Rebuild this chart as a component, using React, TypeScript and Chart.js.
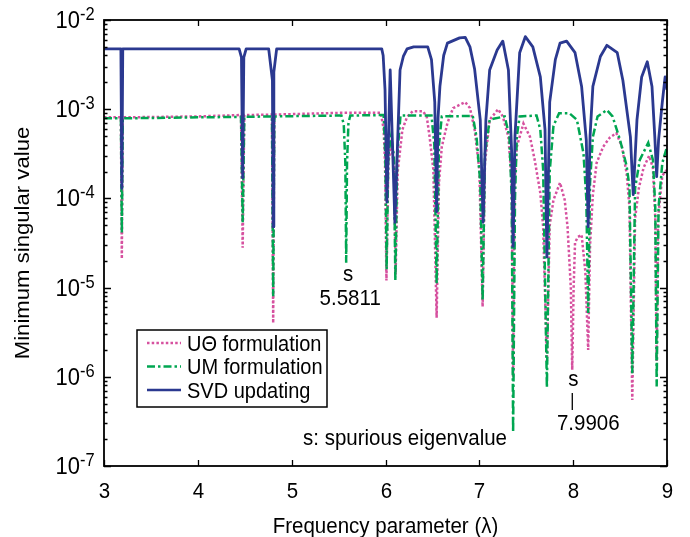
import { useEffect, useRef } from "react";
import { Chart, registerables } from "chart.js";

Chart.register(...registerables);

// ---- data ----
const lambdaUTheta = [
  3.0, 3.18, 3.19, 3.2, 4.0, 4.46, 4.478, 4.495, 4.79, 4.803, 4.815, 5.5, 5.95, 5.98, 5.995, 6.01, 6.03, 6.06, 6.09,
  6.108, 6.13, 6.18, 6.23, 6.29, 6.4, 6.44, 6.47, 6.51, 6.545, 6.57, 6.6, 6.66, 6.72, 6.85, 6.9, 6.95, 7.0, 7.035,
  7.06, 7.11, 7.2, 7.25, 7.31, 7.345, 7.36, 7.375, 7.4, 7.47, 7.54, 7.59, 7.65, 7.68, 7.72, 7.75, 7.79, 7.86, 7.91,
  7.94, 7.975, 7.99, 8.005, 8.02, 8.05, 8.09, 8.13, 8.16, 8.18, 8.21, 8.25, 8.32, 8.39, 8.46, 8.52, 8.57, 8.6, 8.63,
  8.66, 8.7, 8.75, 8.81, 8.85, 8.875, 8.89, 8.905, 8.95, 9.0,
];
const sigmaUTheta = [
  8.1e-4, 8.1e-4, 2.1e-5, 8.1e-4, 8.3e-4, 8.6e-4, 2.8e-5, 8.6e-4, 8.7e-4, 4e-6, 8.7e-4, 9.1e-4, 9.1e-4, 6e-4, 2.5e-4,
  1.2e-5, 2.5e-4, 4e-4, 2.5e-4, 1.4e-5, 2e-4, 5.9e-4, 8.2e-4, 9.5e-4, 9.5e-4, 8.2e-4, 4.9e-4, 2.1e-4, 4.6e-6, 1.5e-4,
  3.8e-4, 7e-4, 1.03e-3, 1.2e-3, 1.03e-3, 5.9e-4, 2.1e-4, 6.1e-6, 2.5e-4, 7.6e-4, 1e-3, 8.3e-4, 4.9e-4, 1.5e-4, 1e-6,
  1.5e-4, 3.8e-4, 6.9e-4, 4.9e-4, 2.7e-4, 1.15e-4, 4.8e-5, 1.5e-6, 5e-5, 9.6e-5, 1.5e-4, 9.6e-5, 4.8e-5, 1e-5, 1.2e-6,
  1e-5, 3.2e-5, 3.7e-5, 3.9e-5, 1.5e-5, 2e-6, 3e-5, 1.1e-4, 2.5e-4, 3.8e-4, 4.8e-4, 5.4e-4, 3.8e-4, 1.9e-4, 8e-5,
  5.5e-7, 6e-5, 1.3e-4, 2.2e-4, 3e-4, 2.2e-4, 6e-5, 1.5e-6, 6e-5, 1.8e-4, 2.1e-4,
];

const lambdaUM = [
  3.0, 3.18, 3.19, 3.2, 4.0, 4.46, 4.478, 4.495, 4.79, 4.803, 4.815, 5.53, 5.555, 5.572, 5.581, 5.59, 5.605, 5.625,
  5.98, 5.998, 6.012, 6.03, 6.06, 6.09, 6.105, 6.125, 6.16, 6.49, 6.52, 6.545, 6.57, 6.6, 6.93, 6.97, 7.01, 7.035,
  7.06, 7.11, 7.15, 7.27, 7.32, 7.345, 7.36, 7.38, 7.4, 7.43, 7.61, 7.65, 7.68, 7.72, 7.75, 7.79, 7.85, 7.96, 8.04,
  8.11, 8.14, 8.16, 8.18, 8.21, 8.26, 8.36, 8.42, 8.5, 8.57, 8.6, 8.63, 8.66, 8.71, 8.8, 8.85, 8.875, 8.89, 8.91, 8.95,
  9.0,
];
const sigmaUM = [
  7.9e-4, 7.9e-4, 4.1e-5, 7.9e-4, 8.1e-4, 8.2e-4, 5.4e-5, 8.2e-4, 8.3e-4, 8e-6, 8.3e-4, 8.5e-4, 6.8e-4, 2.5e-4, 1.9e-5,
  2.5e-4, 7e-4, 8.5e-4, 8.6e-4, 3e-4, 1.6e-5, 3e-4, 5e-4, 3e-4, 1.2e-5, 3e-4, 8.5e-4, 8.5e-4, 4e-4, 1.1e-5, 4e-4,
  8.3e-4, 8.4e-4, 4.9e-4, 1.5e-4, 7.2e-6, 3.2e-4, 7.6e-4, 7.8e-4, 8.3e-4, 5e-4, 1e-4, 2.4e-7, 1e-4, 5e-4, 8.3e-4,
  8.5e-4, 5.9e-4, 2.1e-4, 7.6e-7, 2e-4, 6.5e-4, 9e-4, 9e-4, 7.6e-4, 3.2e-4, 1e-4, 5.2e-6, 1.5e-4, 4.9e-4, 8.3e-4,
  9.8e-4, 8.3e-4, 4.5e-4, 2.3e-4, 1.35e-4, 1.1e-6, 1.3e-4, 2.7e-4, 4.2e-4, 2.7e-4, 8e-5, 7.8e-7, 8e-5, 2.5e-4, 3.8e-4,
];

const lambdaSVD = [
  3.0, 3.18, 3.19, 3.2, 4.44, 4.465, 4.478, 4.49, 4.515, 4.755, 4.795, 4.803, 4.81, 4.84, 5.96, 5.975, 5.995, 6.015,
  6.05, 6.1, 6.155, 6.19, 6.23, 6.3, 6.45, 6.49, 6.525, 6.545, 6.56, 6.58, 6.62, 6.66, 6.79, 6.85, 6.9, 6.95, 7.01,
  7.04, 7.07, 7.11, 7.19, 7.25, 7.31, 7.345, 7.36, 7.38, 7.43, 7.49, 7.57, 7.65, 7.7, 7.72, 7.75, 7.81, 7.86, 7.93,
  8.02, 8.09, 8.14, 8.16, 8.18, 8.21, 8.29, 8.36, 8.47, 8.53, 8.61, 8.64, 8.68, 8.73, 8.79, 8.84, 8.87, 8.89, 8.91,
  8.95, 8.98, 9.0,
];
const sigmaSVD = [
  4.75e-3, 4.75e-3, 1.3e-4, 4.75e-3, 4.75e-3, 3.8e-3, 1.7e-4, 3.8e-3, 4.75e-3, 4.75e-3, 2.1e-3, 4.8e-5, 2.6e-3, 4.75e-3,
  4.75e-3, 4e-3, 1.65e-3, 9.1e-5, 2.75e-3, 5.4e-5, 2.75e-3, 3.9e-3, 4.75e-3, 5e-3, 5e-3, 3.6e-3, 1.2e-3, 7.1e-5, 8e-4,
  1.8e-3, 4e-3, 5.5e-3, 6.3e-3, 6.4e-3, 5e-3, 2.8e-3, 7.6e-4, 5.4e-5, 7.6e-4, 2.75e-3, 4.6e-3, 5.8e-3, 2.75e-3, 3.2e-4,
  2.9e-5, 5e-4, 4.3e-3, 6.5e-3, 5e-3, 2.3e-3, 5.9e-4, 2.2e-5, 1.2e-3, 3.6e-3, 5.5e-3, 5.8e-3, 4.3e-3, 1.8e-3, 4.5e-4,
  4.8e-5, 5e-4, 1.8e-3, 3.9e-3, 5.2e-3, 4.3e-3, 2.1e-3, 4.9e-4, 1.1e-4, 7.6e-4, 2.3e-3, 3.4e-3, 1.8e-3, 4.9e-4, 1.75e-4,
  4.5e-4, 1.2e-3, 2.3e-3, 1.65e-3,
];

const xTickValues = [3, 4, 5, 6, 7, 8, 9];
const yTickExponents = [-2, -3, -4, -5, -6, -7];
const seriesLabels = ["U\u0398 formulation", "UM formulation", "SVD updating"];
const spuriousA = 5.5811;
const spuriousB = 7.9906;

const FONT = '"Liberation Sans", Arial, Helvetica, sans-serif';
const PINK = "#D6519F";
const GREEN = "#00A651";
const BLUE = "#2B3990";
const SY = 1.08; // slight vertical stretch of the reference's lettering

const toPoints = (xs: number[], ys: number[]) => xs.map((x, i) => ({ x, y: ys[i] }));

function text(ctx: any, s: string, x: number, y: number, size: number, align: string, rotate = false) {
  ctx.save();
  ctx.translate(x, y);
  if (rotate) {
    ctx.rotate(-Math.PI / 2);
    ctx.scale(SY, 1);
  } else {
    ctx.scale(1, SY);
  }
  ctx.font = `${size}px ${FONT}`;
  ctx.textAlign = align;
  ctx.textBaseline = "alphabetic";
  ctx.fillText(s, 0, 0);
  ctx.restore();
}

const decorPlugin = {
  id: "decor",
  afterDatasetsDraw(chart: any) {
    const { ctx, chartArea: a, scales } = chart;
    const xs = scales.x;
    const ys = scales.y;
    ctx.save();
    ctx.setLineDash([]);
    ctx.strokeStyle = "#000";
    ctx.fillStyle = "#000";

    // x ticks (inward, bottom and top) + labels
    ctx.lineWidth = 1.3;
    for (const v of xTickValues) {
      const px = Math.round(xs.getPixelForValue(v)) + 0.5;
      ctx.beginPath();
      ctx.moveTo(px, a.bottom);
      ctx.lineTo(px, a.bottom - 6);
      ctx.moveTo(px, a.top);
      ctx.lineTo(px, a.top + 6);
      ctx.stroke();
      text(ctx, String(v), px, a.bottom + 32, 20.5, "center");
    }

    // y ticks: major + minor, left and right, inward
    for (let e = -7; e <= -2; e++) {
      for (let m = 1; m <= 9; m++) {
        const v = m * Math.pow(10, e);
        if (v > 1e-2 * 1.0001) continue;
        const py = Math.round(ys.getPixelForValue(v)) + 0.5;
        const len = m === 1 ? 7 : 3.5;
        ctx.beginPath();
        ctx.moveTo(a.left, py);
        ctx.lineTo(a.left + len, py);
        ctx.moveTo(a.right, py);
        ctx.lineTo(a.right - len, py);
        ctx.stroke();
      }
    }
    // y labels 10^k
    for (const e of yTickExponents) {
      const py = ys.getPixelForValue(Math.pow(10, e));
      text(ctx, "10", 80, py + 8, 22, "right");
      text(ctx, String(e), 80, py, 16.5, "left");
    }

    // box
    ctx.lineWidth = 1.8;
    ctx.strokeRect(a.left, a.top, a.right - a.left, a.bottom - a.top);

    // axis titles
    text(ctx, "Frequency parameter (\u03bb)", (a.left + a.right) / 2, a.bottom + 67, 20.5, "center");
    text(ctx, "Minimum singular value", 29, (a.top + a.bottom) / 2, 20.5, "center", true);

    // annotations
    const sxA = xs.getPixelForValue(spuriousA);
    text(ctx, "s", sxA + 2, 281, 20.5, "center");
    text(ctx, String(spuriousA), sxA + 4, 305, 20.5, "center");
    const sxB = xs.getPixelForValue(spuriousB);
    text(ctx, "s", sxB + 1, 386, 20.5, "center");
    ctx.lineWidth = 1.3;
    ctx.beginPath();
    ctx.moveTo(sxB, 393);
    ctx.lineTo(sxB, 410);
    ctx.stroke();
    text(ctx, String(spuriousB), sxB + 16, 430, 20.5, "center");
    text(ctx, "s: spurious eigenvalue", 405, 445, 20.5, "center");

    // legend
    const lx = 137, ly = 330, lw = 190, lh = 77;
    ctx.fillStyle = "#fff";
    ctx.fillRect(lx, ly, lw, lh);
    ctx.strokeStyle = "#000";
    ctx.lineWidth = 1.5;
    ctx.strokeRect(lx, ly, lw, lh);
    const rows = [
      { label: seriesLabels[0], color: PINK, dash: [2.5, 2.2] },
      { label: seriesLabels[1], color: GREEN, dash: [8, 3, 2.5, 3] },
      { label: seriesLabels[2], color: BLUE, dash: [] as number[] },
    ];
    rows.forEach((r, i) => {
      const cy = 343 + i * 23.5;
      ctx.strokeStyle = r.color;
      ctx.lineWidth = 2.5;
      ctx.setLineDash(r.dash);
      ctx.beginPath();
      ctx.moveTo(147, cy);
      ctx.lineTo(181, cy);
      ctx.stroke();
      ctx.setLineDash([]);
      ctx.fillStyle = "#000";
      text(ctx, r.label, 187, cy + 7.5, 20, "left");
    });
    ctx.restore();
  },
};

export default function App() {
  const ref = useRef<HTMLCanvasElement>(null);
  useEffect(() => {
    if (!ref.current) return;
    const chart = new Chart(ref.current, {
      type: "line",
      data: {
        datasets: [
          {
            label: seriesLabels[0],
            data: toPoints(lambdaUTheta, sigmaUTheta),
            borderColor: PINK,
            borderWidth: 2.5,
            borderDash: [2.5, 2.2],
            pointRadius: 0,
            fill: false,
            order: 3,
          },
          {
            label: seriesLabels[1],
            data: toPoints(lambdaUM, sigmaUM),
            borderColor: GREEN,
            borderWidth: 2.5,
            borderDash: [8, 3, 2.5, 3],
            pointRadius: 0,
            fill: false,
            order: 2,
          },
          {
            label: seriesLabels[2],
            data: toPoints(lambdaSVD, sigmaSVD),
            borderColor: BLUE,
            borderWidth: 2.8,
            borderJoinStyle: "round",
            pointRadius: 0,
            fill: false,
            order: 1,
          },
        ],
      },
      options: {
        animation: false,
        responsive: false,
        layout: { padding: { left: 0, right: 23, top: 20, bottom: 0 } },
        plugins: { legend: { display: false }, tooltip: { enabled: false } },
        scales: {
          x: {
            type: "linear",
            min: 3,
            max: 9,
            grid: { display: false },
            border: { display: false },
            ticks: { display: false },
            afterFit: (s: any) => {
              s.height = 71;
            },
          },
          y: {
            type: "logarithmic",
            min: 1e-7,
            max: 1e-2,
            grid: { display: false },
            border: { display: false },
            ticks: { display: false },
            afterFit: (s: any) => {
              s.width = 104;
            },
          },
        },
      },
      plugins: [decorPlugin],
    } as any);
    return () => chart.destroy();
  }, []);
  return (
    <div style={{ position: "fixed", left: 0, top: 0, width: 690, height: 537, background: "#fff" }}>
      <canvas ref={ref} width={690} height={537} style={{ display: "block", width: 690, height: 537 }} />
    </div>
  );
}
